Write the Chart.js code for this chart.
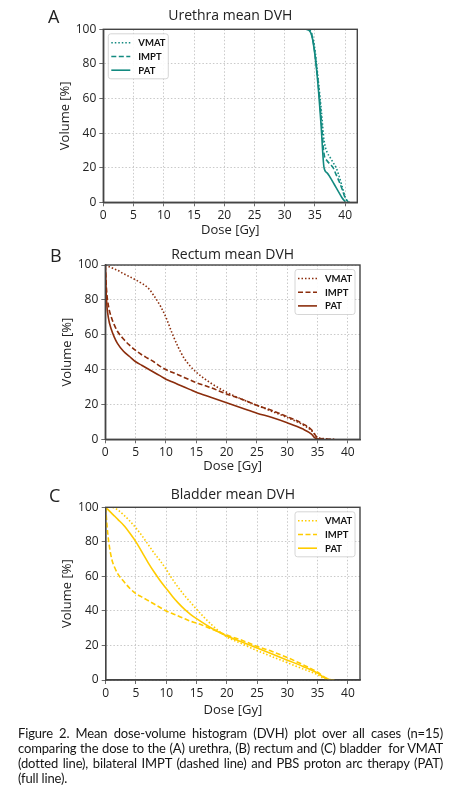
<!DOCTYPE html>
<html>
<head>
<meta charset="utf-8">
<script src="https://cdn.jsdelivr.net/npm/chart.js@4.4.1/dist/chart.umd.min.js"></script>
<style>
  body { margin: 0; background: #fff; width: 459px; height: 800px; position: relative; overflow: hidden; }
  canvas { position: absolute; left: 0; }
  .panel { position: absolute; font-family: "Open Sans"; font-size: 18px; line-height: 1; color: #222; }
  #caption { position: absolute; left: 18px; top: 726px; width: 425px; font-family: Lato; font-size: 13px; letter-spacing: -0.15px; line-height: 15px; color: #151515; }
  #caption div { text-align: justify; text-align-last: justify; white-space: nowrap; }
  #caption div.last { text-align-last: left; }
</style>
</head>
<body>
<canvas id="chartA" width="459" height="240" style="top:0px"></canvas>
<canvas id="chartB" width="459" height="240" style="top:236px"></canvas>
<canvas id="chartC" width="459" height="245" style="top:476px"></canvas>
<div class="panel" style="left:48px;top:7px">A</div>
<div class="panel" style="left:50px;top:246px">B</div>
<div class="panel" style="left:49px;top:486px">C</div>
<div id="caption">
  <div>Figure 2. Mean dose-volume histogram (DVH) plot over all cases (n=15)</div>
  <div>comparing the dose to the (A) urethra, (B) rectum and (C) bladder&nbsp; for VMAT</div>
  <div>(dotted line), bilateral IMPT (dashed line) and PBS proton arc therapy (PAT)</div>
  <div class="last">(full line).</div>
</div>
<script>
// values (dose in Gy, volume in %)
const seriesNames = ["VMAT", "IMPT", "PAT"];
const doseTicks = [0, 5, 10, 15, 20, 25, 30, 35, 40];
const volumeTicks = [0, 20, 40, 60, 80, 100];

// A - urethra
const urethraDose = [0, 10, 20, 30, 33, 33.5, 34, 34.5, 35, 35.5, 36, 36.5, 37, 37.5, 38, 38.5, 39, 39.5, 40, 40.5, 41];
const urethraVmat = [100, 100, 100, 100, 100, 100, 99.8, 97, 88, 72, 55, 36, 29, 26, 23, 20, 15, 9, 3, 0.3, 0];
const urethraImpt = [100, 100, 100, 100, 100, 100, 99.7, 96.5, 86, 70, 50, 28, 24, 22, 20, 16, 12, 7.5, 2.5, 0.2, null];
const urethraPat  = [100, 100, 100, 100, 100, 100, 99.5, 96, 85, 68, 45, 20, 17, 14.5, 11.5, 8.5, 5.5, 2.5, 0.3, null, null];

// B - rectum
const rectumDose = [0, 0.2, 0.5, 1, 1.5, 2, 3, 4, 5, 6, 7, 8, 9, 10, 11, 12, 13, 14, 15, 17.5, 20, 22.5, 25, 27.5, 30, 32.5, 34, 34.5, 35, 36, 37, 38];
const rectumVmat = [100, 99.7, 99.2, 98.5, 97.7, 97, 95, 93.3, 91.5, 89.5, 87, 82.5, 77, 70, 61, 53, 46.5, 42, 38.5, 32, 27, 23, 19.5, 16, 12.5, 8.5, 5, 3, 1, 0.4, 0.2, 0];
const rectumImpt = [100, 86, 77, 70, 65.5, 62, 57.5, 54, 51, 48.5, 46.5, 44.5, 42, 40, 38.5, 37, 35.5, 34, 32.5, 29.5, 26, 23, 19.5, 16.5, 13, 9, 5.5, 3, 0.8, 0.3, 0, null];
const rectumPat  = [100, 80, 70, 63, 58.5, 55, 50.5, 47.5, 44.5, 42.5, 40.5, 38.5, 36.5, 34.5, 33, 31.5, 30, 28.5, 27, 24, 21, 18, 15, 12.5, 9.5, 6, 3, 1, 0.3, 0, null, null];

// C - bladder
const bladderDose = [0, 0.2, 0.5, 1, 1.5, 2, 3, 4, 5, 6, 7, 8, 9, 10, 11, 12, 13, 14, 15, 17.5, 20, 22.5, 25, 27.5, 30, 32.5, 35, 36, 37, 38];
const bladderVmat = [100, 100, 100, 100, 99.5, 98.5, 95.5, 92, 88, 83.5, 78.5, 73.5, 69, 64, 58.5, 53.5, 49, 45, 41, 32, 25, 21, 17, 13.5, 10, 6.5, 3, 1, 0.2, null];
const bladderImpt = [100, 90, 80, 70, 65, 61.5, 57, 53, 50, 48, 46, 44, 42, 40, 38.5, 37, 35.5, 34, 33, 29.5, 26, 23, 19.5, 16.5, 13, 9, 4.5, 2, 0.3, 0];
const bladderPat  = [100, 99.3, 98.2, 96.5, 94.8, 93, 89.5, 85, 80, 74, 68, 62.5, 57.5, 53, 48.5, 44.5, 41, 38, 35.5, 30, 25.5, 22, 18.5, 15, 11.5, 8, 4, 1.5, 0.2, null];

const dashes = [[1.5, 2], [5, 2.5], []];

// dark frame round the plot area
const framePlugin = {
  id: "frame",
  afterDatasetsDraw(chart) {
    const { ctx, chartArea: a } = chart;
    ctx.save();
    ctx.strokeStyle = "#444";
    ctx.lineWidth = 1.4;
    ctx.strokeRect(a.left, a.top, a.right - a.left, a.bottom - a.top);
    ctx.restore();
  }
};

// legend box inside the plot, matplotlib style
const boxLegend = {
  id: "boxLegend",
  afterDraw(chart, args, o) {
    const { ctx, chartArea: a } = chart;
    const w = 60, h = 45;
    const x = o.side === "left" ? a.left + 5 : a.right - 5 - w;
    const y = a.top + 4.5;
    ctx.save();
    ctx.fillStyle = "rgba(255,255,255,0.9)";
    ctx.strokeStyle = "#cccccc";
    ctx.lineWidth = 0.8;
    ctx.beginPath();
    ctx.roundRect(x, y, w, h, 2.5);
    ctx.fill();
    ctx.stroke();
    chart.data.datasets.forEach((ds, i) => {
      const cy = y + 9 + i * 13.7;
      ctx.strokeStyle = ds.borderColor;
      ctx.lineWidth = ds.borderWidth;
      ctx.setLineDash(ds.borderDash || []);
      ctx.beginPath();
      ctx.moveTo(x + 3, cy);
      ctx.lineTo(x + 22, cy);
      ctx.stroke();
      ctx.setLineDash([]);
      ctx.fillStyle = "#111";
      ctx.font = "bold 9.5px Lato";
      ctx.textBaseline = "middle";
      ctx.fillText(ds.label, x + 30, cy + 0.5);
    });
    ctx.restore();
  }
};

function makePanel(id, canvasTop, canvasH, g, title, dose, lists, color, side) {
  const lh = 14 * 1.2, alh = 13 * 1.2;
  const padLeft = g.yTitleX - alh / 2;
  const yW = g.left - padLeft;
  const xH = g.xTitleY + alh / 2 - g.bottom;
  const padBottom = canvasTop + canvasH - (g.bottom + xH);
  const tTop = g.titleY - canvasTop - lh / 2;
  const tBottom = g.top - canvasTop - lh - tTop;

  const datasets = lists.map((vals, i) => ({
    label: seriesNames[i],
    data: dose.map((d, j) => ({ x: d, y: vals[j] })),
    borderColor: color,
    borderWidth: 1.6,
    borderDash: dashes[i],
    pointRadius: 0,
    cubicInterpolationMode: "monotone",
    fill: false
  }));

  new Chart(document.getElementById(id).getContext("2d"), {
    type: "line",
    data: { datasets },
    plugins: [framePlugin, boxLegend],
    options: {
      responsive: false,
      animation: false,
      layout: { padding: { left: padLeft, right: 459 - g.right, top: 0, bottom: padBottom } },
      plugins: {
        legend: { display: false },
        tooltip: { enabled: false },
        title: {
          display: true, text: title, fullSize: false,
          color: "#222", font: { family: "Open Sans", size: 14, weight: "normal" },
          padding: { top: tTop, bottom: tBottom }
        },
        boxLegend: { side }
      },
      scales: {
        x: {
          type: "linear", min: 0, max: 42,
          afterFit: (s) => { s.height = xH; },
          afterBuildTicks: (s) => { s.ticks = doseTicks.map((v) => ({ value: v })); },
          ticks: { color: "#222", font: { family: "Open Sans", size: 12 }, padding: 2, maxRotation: 0 },
          grid: { color: "#bbbbbb", lineWidth: 0.8, tickColor: "#444", tickLength: 4, tickBorderDash: [] },
          border: { color: "#444", width: 1.4, dash: [1.5, 2] },
          title: { display: true, text: "Dose [Gy]", color: "#222", font: { family: "Open Sans", size: 13 }, padding: 0 }
        },
        y: {
          min: 0, max: 100,
          afterFit: (s) => { s.width = yW; },
          afterBuildTicks: (s) => { s.ticks = volumeTicks.map((v) => ({ value: v })); },
          ticks: { color: "#222", font: { family: "Open Sans", size: 12 }, padding: 3 },
          grid: { color: "#bbbbbb", lineWidth: 0.8, tickColor: "#444", tickLength: 4, tickBorderDash: [] },
          border: { color: "#444", width: 1.4, dash: [1.5, 2] },
          title: { display: true, text: "Volume [%]", color: "#222", font: { family: "Open Sans", size: 13 }, padding: 0 }
        }
      }
    }
  });
}

makePanel("chartA", 0, 240,
  { left: 103.3, right: 357.3, top: 29.3, bottom: 202.3, titleY: 16.5, xTitleY: 230, yTitleX: 65 },
  "Urethra mean DVH", urethraDose, [urethraVmat, urethraImpt, urethraPat], "#138a80", "left");

makePanel("chartB", 236, 240,
  { left: 105.3, right: 360, top: 265, bottom: 439.3, titleY: 255, xTitleY: 466, yTitleX: 67 },
  "Rectum mean DVH", rectumDose, [rectumVmat, rectumImpt, rectumPat], "#8b2d0c", "right");

makePanel("chartC", 476, 245,
  { left: 105.7, right: 360, top: 507.3, bottom: 680, titleY: 495, xTitleY: 710, yTitleX: 67 },
  "Bladder mean DVH", bladderDose, [bladderVmat, bladderImpt, bladderPat], "#ffcc00", "right");
</script>
</body>
</html>
